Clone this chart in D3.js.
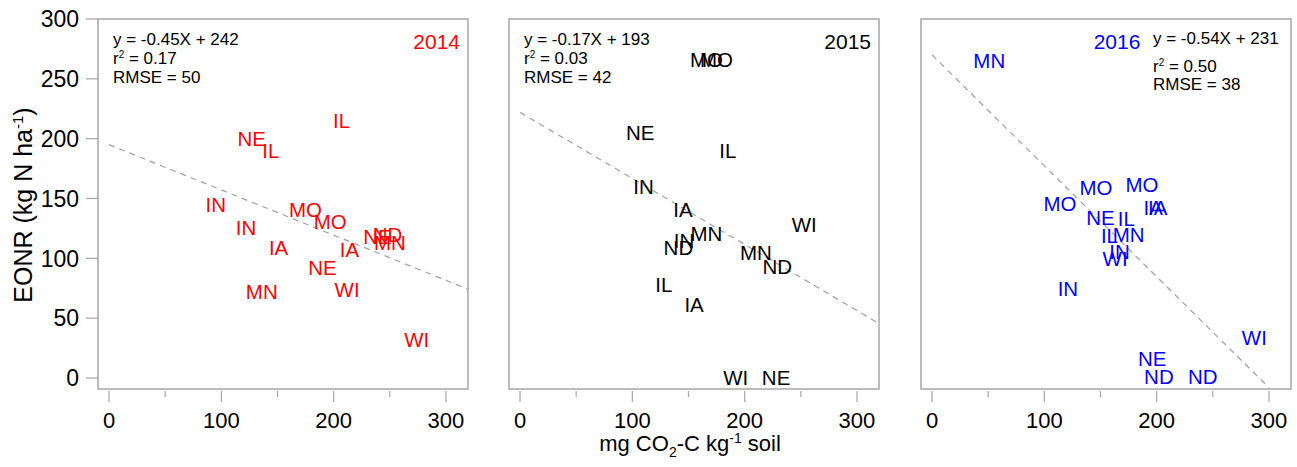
<!DOCTYPE html>
<html>
<head>
<meta charset="utf-8">
<script src="https://d3js.org/d3.v7.min.js"></script>
<style>
    body { margin: 0; background: #fff; }
    svg { font-family: "Liberation Sans", Arial, sans-serif; }
    .frame { fill: none; stroke: #a6a6a6; stroke-width: 1.5; }
    .tick-line { stroke: #a6a6a6; stroke-width: 1.2; }
</style>
</head>
<body>
<div id="chart"></div>
<script>

var years = ["2014", "2015", "2016"];
var yearColors = ["#ff0000", "#000000", "#0000ff"];

var states2014 = ["IL", "NE", "IL", "IN", "IN", "MO", "MO", "IA", "IA", "NE", "NE", "ND", "MN", "WI", "MN", "WI"];
var co2_2014 = [207, 127, 144, 95, 122, 175, 197, 151, 214, 190, 239, 248, 250, 212, 136, 274];
var eonr2014 = [215, 200, 190, 145, 126, 141, 131, 109, 107, 92, 118, 120, 113, 74, 72, 32];

var states2015 = ["MO", "MO", "NE", "IL", "IN", "IA", "MN", "IN", "ND", "MN", "ND", "WI", "IL", "IA", "WI", "NE"];
var co2_2015 = [166, 175, 107, 185, 110, 145, 166, 146, 141, 210, 229, 253, 128, 155, 192, 228];
var eonr2015 = [266, 266, 205, 190, 160, 141, 121, 115, 109, 105, 93, 128, 78, 61, 0, 0];

var states2016 = ["MN", "MO", "MO", "MO", "IA", "IA", "NE", "IL", "IL", "MN", "IN", "WI", "IN", "WI", "NE", "ND", "ND"];
var co2_2016 = [51, 114, 146, 187, 197, 201, 150, 173, 158, 175, 167, 163, 121, 287, 196, 202, 241];
var eonr2016 = [265, 146, 159, 162, 142, 142, 134, 133, 119, 120, 106, 100, 75, 34, 16, 1, 1];

// fitted dashed lines: [x0, y0, x1, y1]
var fit2014 = [0, 195, 320, 74];
var fit2015 = [0, 222, 317, 47];
var fit2016 = [0, 270, 300, -8];

var equations = ["y = -0.45X + 242", "y = -0.17X + 193", "y = -0.54X + 231"];
var r2Labels = ["0.17", "0.03", "0.50"];
var rmseLabels = ["RMSE = 50", "RMSE = 42", "RMSE = 38"];

var xTicks = [0, 100, 200, 300];
var xMinorTicks = [50, 150, 250];
var yTicks = [0, 50, 100, 150, 200, 250, 300];

var W = 1297, H = 467,
    panelLefts = [98, 509, 921],
    panelW = 370,
    plotTop = 19, plotBottom = 389;

var svg = d3.select("#chart").append("svg")
    .attr("width", W)
    .attr("height", H);

var y = d3.scaleLinear()
    .domain([-9.2, 300])
    .range([plotBottom, plotTop]);

var panels = [
    {states: states2014, x: co2_2014, y: eonr2014, fit: fit2014},
    {states: states2015, x: co2_2015, y: eonr2015, fit: fit2015},
    {states: states2016, x: co2_2016, y: eonr2016, fit: fit2016}
];

panels.forEach(function (p, i) {
    var left = panelLefts[i];
    var x = d3.scaleLinear()
        .domain([-9.8, 319.6])
        .range([left, left + panelW]);
    var color = yearColors[i];
    var g = svg.append("g");

    g.append("rect")
        .attr("class", "frame")
        .attr("x", left)
        .attr("y", plotTop)
        .attr("width", panelW)
        .attr("height", plotBottom - plotTop);

    // x ticks
    g.selectAll(".xmaj")
        .data(xTicks)
        .enter().append("line")
        .attr("class", "tick-line")
        .attr("x1", function (d) { return x(d); })
        .attr("x2", function (d) { return x(d); })
        .attr("y1", plotBottom + 2)
        .attr("y2", plotBottom + 13);
    g.selectAll(".xmin")
        .data(xMinorTicks)
        .enter().append("line")
        .attr("class", "tick-line")
        .attr("x1", function (d) { return x(d); })
        .attr("x2", function (d) { return x(d); })
        .attr("y1", plotBottom + 2)
        .attr("y2", plotBottom + 8);
    g.selectAll(".xlab")
        .data(xTicks)
        .enter().append("text")
        .attr("x", function (d) { return x(d); })
        .attr("y", 428)
        .attr("text-anchor", "middle")
        .style("font-size", "22px")
        .text(function (d) { return d; });

    // regression line
    g.append("line")
        .attr("x1", x(p.fit[0]))
        .attr("y1", y(p.fit[1]))
        .attr("x2", x(p.fit[2]))
        .attr("y2", y(p.fit[3]))
        .style("stroke", "#a0a0a0")
        .style("stroke-width", 1.2)
        .style("stroke-dasharray", "6,5");

    // state labels
    g.selectAll(".pt")
        .data(p.states)
        .enter().append("text")
        .attr("x", function (d, j) { return x(p.x[j]); })
        .attr("y", function (d, j) { return y(p.y[j]); })
        .attr("dy", "0.36em")
        .attr("text-anchor", "middle")
        .style("font-size", "20.5px")
        .style("fill", color)
        .text(function (d) { return d; });

    // equation block
    var ex, ey;
    if (i < 2) {
        ex = left + 15; ey = [45, 64, 83];
    } else {
        ex = left + 232; ey = [44, 72, 90];
    }
    g.append("text")
        .attr("x", ex).attr("y", ey[0])
        .style("font-size", "17px")
        .text(equations[i]);
    var r2 = g.append("text")
        .attr("x", ex).attr("y", ey[1])
        .style("font-size", "17px");
    r2.append("tspan").text("r");
    r2.append("tspan").attr("dy", -6).style("font-size", "10px").text("2");
    r2.append("tspan").attr("dy", 6).text(" = " + r2Labels[i]);
    g.append("text")
        .attr("x", ex).attr("y", ey[2])
        .style("font-size", "17px")
        .text(rmseLabels[i]);

    // year label
    var yr = g.append("text")
        .attr("y", 49)
        .style("font-size", "21px")
        .style("fill", color)
        .text(years[i]);
    if (i < 2) {
        yr.attr("x", left + panelW - 8).attr("text-anchor", "end");
    } else {
        yr.attr("x", left + 196).attr("text-anchor", "middle");
    }
});

// y axis on first panel
var ya = svg.append("g");
ya.selectAll("line")
    .data(yTicks)
    .enter().append("line")
    .attr("class", "tick-line")
    .attr("x1", 86)
    .attr("x2", panelLefts[0])
    .attr("y1", function (d) { return y(d); })
    .attr("y2", function (d) { return y(d); });
ya.selectAll("text")
    .data(yTicks)
    .enter().append("text")
    .attr("x", 79)
    .attr("y", function (d) { return y(d); })
    .attr("dy", "0.36em")
    .attr("text-anchor", "end")
    .style("font-size", "23px")
    .text(function (d) { return d; });

var yt = svg.append("text")
    .attr("transform", "translate(32,205) rotate(-90)")
    .attr("text-anchor", "middle")
    .style("font-size", "25px");
yt.append("tspan").text("EONR (kg N ha");
yt.append("tspan").attr("dy", -9).style("font-size", "15px").text("-1");
yt.append("tspan").attr("dy", 9).text(")");

var xt = svg.append("text")
    .attr("x", 690)
    .attr("y", 451)
    .attr("text-anchor", "middle")
    .style("font-size", "22px");
xt.append("tspan").text("mg CO");
xt.append("tspan").attr("dy", 6).style("font-size", "14px").text("2");
xt.append("tspan").attr("dy", -6).text("-C kg");
xt.append("tspan").attr("dy", -8).style("font-size", "14px").text("-1");
xt.append("tspan").attr("dy", 8).text(" soil");

</script>
</body>
</html>
